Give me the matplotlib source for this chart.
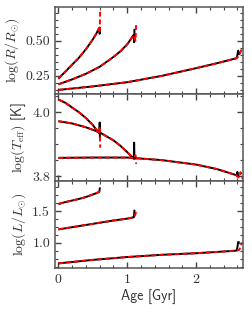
import numpy as np
import matplotlib
matplotlib.use("Agg")
import matplotlib.pyplot as plt
from matplotlib.ticker import MultipleLocator, AutoMinorLocator, FormatStrFormatter

plt.rcParams['mathtext.fontset'] = 'cm'
plt.rcParams['axes.formatter.use_mathtext'] = True

# edad (Gyr) y valores de las tres trayectorias - modelo (negro) y ajuste (rojo)
# trayectoria A (masa alta)
age_a = [0.0, 0.1, 0.2, 0.3, 0.4, 0.5, 0.55, 0.59]
logr_a = [0.23, 0.28, 0.33, 0.38, 0.44, 0.51, 0.55, 0.59]
logt_a = [4.04, 4.03, 4.015, 4.0, 3.982, 3.96, 3.946, 3.935]
logl_a = [1.61, 1.64, 1.665, 1.69, 1.72, 1.76, 1.78, 1.80]
# trayectoria B
age_b = [0.0, 0.2, 0.4, 0.6, 0.8, 0.9, 1.0, 1.05, 1.09]
logr_b = [0.19, 0.225, 0.265, 0.315, 0.385, 0.425, 0.475, 0.51, 0.54]
logt_b = [3.972, 3.965, 3.953, 3.937, 3.912, 3.895, 3.875, 3.864, 3.855]
logl_b = [1.21, 1.245, 1.28, 1.315, 1.35, 1.365, 1.38, 1.39, 1.40]
# trayectoria C (masa baja)
age_c = [0.0, 0.5, 1.0, 1.5, 2.0, 2.3, 2.58]
logr_c = [0.15, 0.175, 0.205, 0.25, 0.305, 0.34, 0.375]
logt_c = [3.857, 3.858, 3.858, 3.85, 3.836, 3.822, 3.803]
logl_c = [0.675, 0.73, 0.775, 0.81, 0.835, 0.855, 0.875]

# final de cada trayectoria (gancho) - modelo
end_age_a = [0.595, 0.600, 0.603]
end_r_a = [0.59, 0.55, 0.60]
end_t_a = [3.935, 3.968, 3.92]
end_l_a = [1.81, 1.84, 1.87]
end_age_b = [1.095, 1.100, 1.105]
end_r_b = [0.54, 0.49, 0.585]
end_t_b = [3.855, 3.905, 3.86]
end_l_b = [1.40, 1.45, 1.52]
end_age_c = [2.59, 2.60, 2.61, 2.62, 2.63]
end_r_c = [0.378, 0.40, 0.43, 0.42, 0.40]
end_t_c = [3.802, 3.813, 3.802, 3.80, 3.80]
end_l_c = [0.88, 0.93, 1.01, 1.01, 1.0]

# final de cada trayectoria - ajuste (rojo)
fit_age_a = [0.595, 0.600, 0.607]
fit_r_a = [0.59, 0.56, 0.72]
fit_t_a = [3.935, 3.955, 3.889]
fit_l_a = [1.81, 1.84, 1.87]
fit_age_b = [1.10, 1.12, 1.13]
fit_r_b = [0.54, 0.50, 0.63]
fit_t_b = [3.853, 3.87, 3.838]
fit_l_b = [1.40, 1.45, 1.52]
fit_age_c = [2.60, 2.63, 2.645, 2.66, 2.68]
fit_r_c = [0.38, 0.40, 0.42, 0.44, 0.455]
fit_t_c = [3.798, 3.795, 3.812, 3.80, 3.79]
fit_l_c = [0.88, 0.89, 0.96, 0.99, 1.0]

fig = plt.figure(figsize=(2.52, 3.10), dpi=100)
left, right, top, bottom = 0.218, 0.964, 0.977, 0.135
h = (top - bottom) / 3
axes = [fig.add_axes([left, top - (i + 1) * h, right - left, h]) for i in range(3)]

tracks = [
    (age_a, [logr_a, logt_a, logl_a], end_age_a, [end_r_a, end_t_a, end_l_a],
     fit_age_a, [fit_r_a, fit_t_a, fit_l_a]),
    (age_b, [logr_b, logt_b, logl_b], end_age_b, [end_r_b, end_t_b, end_l_b],
     fit_age_b, [fit_r_b, fit_t_b, fit_l_b]),
    (age_c, [logr_c, logt_c, logl_c], end_age_c, [end_r_c, end_t_c, end_l_c],
     fit_age_c, [fit_r_c, fit_t_c, fit_l_c]),
]

for i, ax in enumerate(axes):
    for age, vals, eage, evals, fage, fvals in tracks:
        x_mod = list(age) + list(eage)
        y_mod = list(vals[i]) + list(evals[i])
        x_fit = list(age) + list(fage)
        y_fit = list(vals[i]) + list(fvals[i])
        ax.plot(x_mod, y_mod, color='black', lw=1.4, solid_capstyle='butt')
        ax.plot(x_fit, y_fit, color='red', lw=1.4, ls=(0, (2.5, 1.5)))

ylabels = [r'$\log(R/R_{\odot})$', r'$\log(T_{\rm eff})$ [K]', r'$\log(L/L_{\odot})$']
ylims = [(0.12, 0.74), (3.784, 4.057), (0.60, 1.97)]
majors = [0.25, 0.2, 0.5]
minors = [5, 4, 4]
fmts = ['%.2f', '%.1f', '%.1f']

for i, ax in enumerate(axes):
    ax.set_xlim(-0.05, 2.68)
    ax.set_ylim(*ylims[i])
    ax.yaxis.set_major_locator(MultipleLocator(majors[i]))
    ax.yaxis.set_minor_locator(AutoMinorLocator(minors[i]))
    ax.yaxis.set_major_formatter(FormatStrFormatter(fmts[i]))
    ax.xaxis.set_major_locator(MultipleLocator(1))
    ax.xaxis.set_minor_locator(AutoMinorLocator(5))
    ax.tick_params(which='both', direction='in', top=True, right=True, colors='#444444')
    ax.tick_params(which='major', length=4.5, width=1.0, labelsize=10, labelcolor='#333333')
    ax.tick_params(which='minor', length=2.3, width=0.8)
    for sp in ax.spines.values():
        sp.set_color('#555555')
        sp.set_linewidth(1.1)
    for lab in ax.get_yticklabels() + ax.get_xticklabels():
        lab.set_fontname('cmr10')
    ax.set_ylabel(ylabels[i], fontsize=10, fontname='cmss10', color='#333333', labelpad=3)
    if i < 2:
        ax.tick_params(labelbottom=False)

axes[2].set_xlabel('Age [Gyr]', fontsize=10, fontname='cmss10', color='#333333', labelpad=2)
fig.align_ylabels(axes)

plt.savefig('out.png', dpi=100)
